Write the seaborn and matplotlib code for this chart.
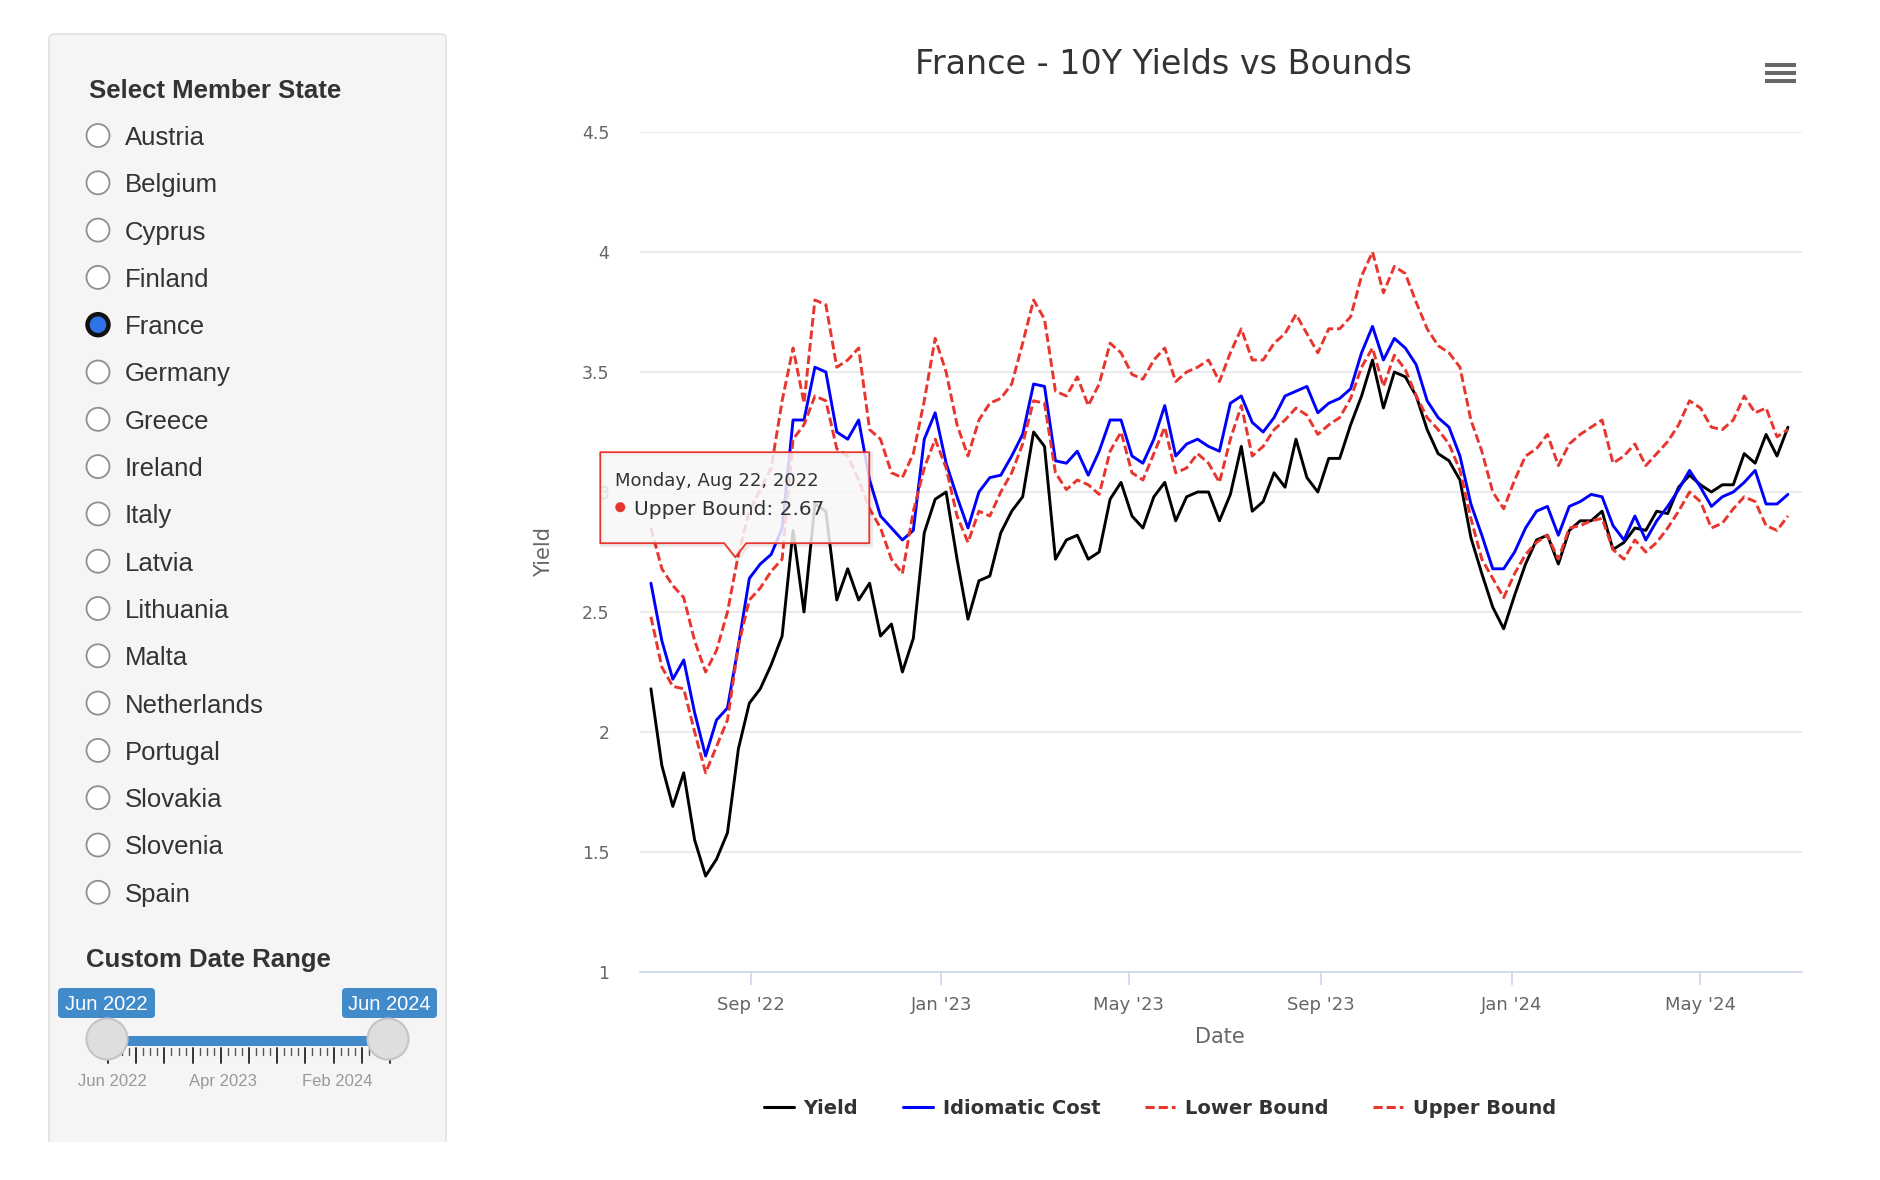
import pandas as pd
import numpy as np
import matplotlib
matplotlib.use("Agg")
import matplotlib.pyplot as plt
import matplotlib.dates as mdates
from matplotlib.patches import Circle, FancyBboxPatch, Rectangle, Polygon
from matplotlib.lines import Line2D
import seaborn as sns

# weekly readings of the France 10Y chart, first point 29 Jun 2022
start_date = "2022-06-29"

yield_vals = [
    2.18, 1.86, 1.69, 1.83, 1.55, 1.40, 1.47, 1.58, 1.93, 2.12, 2.18, 2.28, 2.40, 2.84, 2.50, 2.95, 2.92, 2.55,
    2.68, 2.55, 2.62, 2.40, 2.45, 2.25, 2.39, 2.83, 2.97, 3.00, 2.72, 2.47, 2.63, 2.65, 2.83, 2.92, 2.98, 3.25,
    3.19, 2.72, 2.80, 2.82, 2.72, 2.75, 2.97, 3.04, 2.90, 2.85, 2.98, 3.04, 2.88, 2.98, 3.00, 3.00, 2.88, 2.99,
    3.19, 2.92, 2.96, 3.08, 3.02, 3.22, 3.06, 3.00, 3.14, 3.14, 3.28, 3.40, 3.55, 3.35, 3.50, 3.48, 3.40,
    3.26, 3.16, 3.13, 3.05, 2.81, 2.66, 2.52, 2.43, 2.57, 2.70, 2.80, 2.82, 2.70, 2.84, 2.88, 2.88, 2.92, 2.76,
    2.79, 2.85, 2.84, 2.92, 2.91, 3.02, 3.07, 3.03, 3.00, 3.03, 3.03, 3.16, 3.12, 3.24, 3.15, 3.27,
]
idiomatic_vals = [
    2.62, 2.38, 2.22, 2.30, 2.08, 1.90, 2.05, 2.10, 2.36, 2.64, 2.70, 2.74, 2.85, 3.30, 3.30, 3.52, 3.50, 3.25,
    3.22, 3.30, 3.05, 2.90, 2.85, 2.80, 2.84, 3.22, 3.33, 3.12, 2.98, 2.85, 3.00, 3.06, 3.07, 3.15, 3.24, 3.45,
    3.44, 3.13, 3.12, 3.17, 3.07, 3.17, 3.30, 3.30, 3.15, 3.12, 3.22, 3.36, 3.15, 3.20, 3.22, 3.19, 3.17, 3.37,
    3.40, 3.29, 3.25, 3.31, 3.40, 3.42, 3.44, 3.33, 3.37, 3.39, 3.43, 3.58, 3.69, 3.55, 3.64, 3.60, 3.53,
    3.38, 3.31, 3.27, 3.15, 2.95, 2.82, 2.68, 2.68, 2.75, 2.85, 2.92, 2.94, 2.82, 2.94, 2.96, 2.99, 2.98, 2.86,
    2.80, 2.90, 2.80, 2.88, 2.94, 3.01, 3.09, 3.02, 2.94, 2.98, 3.00, 3.04, 3.09, 2.95, 2.95, 2.99,
]
lower_vals = [
    2.48, 2.27, 2.19, 2.18, 2.00, 1.83, 1.94, 2.05, 2.36, 2.55, 2.60, 2.67, 2.72, 3.22, 3.28, 3.40, 3.38, 3.18,
    3.15, 3.05, 2.93, 2.85, 2.72, 2.66, 2.92, 3.10, 3.22, 3.10, 2.90, 2.79, 2.92, 2.90, 3.00, 3.08, 3.20, 3.38,
    3.37, 3.08, 3.01, 3.05, 3.03, 2.99, 3.17, 3.25, 3.08, 3.05, 3.16, 3.27, 3.08, 3.10, 3.16, 3.12, 3.04, 3.22,
    3.36, 3.15, 3.19, 3.26, 3.30, 3.35, 3.32, 3.24, 3.28, 3.31, 3.39, 3.52, 3.60, 3.44, 3.57, 3.51, 3.40,
    3.31, 3.26, 3.20, 3.09, 2.89, 2.72, 2.64, 2.56, 2.66, 2.74, 2.79, 2.82, 2.72, 2.85, 2.86, 2.88, 2.89, 2.76,
    2.72, 2.80, 2.75, 2.79, 2.85, 2.92, 3.00, 2.96, 2.85, 2.87, 2.93, 2.98, 2.96, 2.86, 2.84, 2.90,
]
upper_vals = [
    2.85, 2.68, 2.61, 2.56, 2.38, 2.25, 2.34, 2.50, 2.74, 2.92, 3.01, 3.10, 3.38, 3.60, 3.37, 3.80, 3.78, 3.52,
    3.55, 3.60, 3.26, 3.22, 3.08, 3.06, 3.16, 3.38, 3.64, 3.50, 3.28, 3.15, 3.30, 3.37, 3.39, 3.45, 3.62, 3.80,
    3.72, 3.42, 3.40, 3.48, 3.36, 3.45, 3.62, 3.58, 3.49, 3.47, 3.55, 3.60, 3.46, 3.50, 3.52, 3.55, 3.46, 3.58,
    3.68, 3.55, 3.55, 3.62, 3.66, 3.74, 3.66, 3.58, 3.68, 3.68, 3.73, 3.90, 4.00, 3.83, 3.94, 3.91, 3.79,
    3.68, 3.61, 3.58, 3.52, 3.30, 3.17, 3.00, 2.93, 3.05, 3.15, 3.18, 3.24, 3.11, 3.20, 3.24, 3.27, 3.30, 3.12,
    3.15, 3.20, 3.11, 3.16, 3.21, 3.28, 3.38, 3.35, 3.27, 3.26, 3.30, 3.40, 3.33, 3.35, 3.23, 3.26,
]

member_states = ["Austria", "Belgium", "Cyprus", "Finland", "France", "Germany", "Greece", "Ireland",
                 "Italy", "Latvia", "Lithuania", "Malta", "Netherlands", "Portugal", "Slovakia",
                 "Slovenia", "Spain"]
selected_state = "France"

x_ticks = ["2022-09-01", "2023-01-01", "2023-05-01", "2023-09-01", "2024-01-01", "2024-05-01"]
y_ticks = [1, 1.5, 2, 2.5, 3, 3.5, 4, 4.5]

range_labels = ["Jun 2022", "Jun 2024"]
slider_grid_labels = ["Jun 2022", "Apr 2023", "Feb 2024"]

tip_date = pd.Timestamp("2022-08-22")
tip_series = "Upper Bound"
tip_value = 2.67

series_order = ["Yield", "Idiomatic Cost", "Lower Bound", "Upper Bound"]
red = "#e8362f"
palette = {"Yield": "#000000", "Idiomatic Cost": "#0000ff", "Lower Bound": red, "Upper Bound": red}
dash_map = {"Yield": "", "Idiomatic Cost": "", "Lower Bound": (3, 1.3), "Upper Bound": (3, 1.3)}

dates = pd.date_range(start_date, periods=len(yield_vals), freq="7D")
df = pd.DataFrame({"Date": dates, "Yield": yield_vals, "Idiomatic Cost": idiomatic_vals,
                   "Lower Bound": lower_vals, "Upper Bound": upper_vals})
long_df = df.melt(id_vars="Date", var_name="series", value_name="value")

sns.set_theme(style="white")
plt.rcParams["font.family"] = ["DejaVu Sans"]

W, H = 1880, 1180
fig = plt.figure(figsize=(W / 100, H / 100), dpi=100)


def px_box(l, t, r, b):
    return [l / W, 1 - b / H, (r - l) / W, (b - t) / H]


# ---- sidebar (pixel coordinates) ----
ui = fig.add_axes([0, 0, 1, 1], zorder=0)
ui.set_xlim(0, W)
ui.set_ylim(H, 0)
ui.set_axis_off()

ui.add_patch(FancyBboxPatch((49, 34), 397, 1160, boxstyle="round,pad=0,rounding_size=5",
                            fc="#f5f5f5", ec="#e3e3e3", lw=1.3))
ui.add_patch(Rectangle((0, 1142), 520, 60, fc="white", ec="none", zorder=3))

side_font = "Liberation Sans"
ui.text(89, 88, "Select Member State", fontsize=18.5, fontweight="bold", color="#333333",
        va="center_baseline", family=side_font)
row0, row_step = 135.5, 47.3
for i, name in enumerate(member_states):
    y = row0 + i * row_step
    if name == selected_state:
        ui.add_patch(Circle((98, y), 10.5, fc="#2f74e6", ec="#111111", lw=3.2))
    else:
        ui.add_patch(Circle((98, y), 11.5, fc="white", ec="#8f8f8f", lw=1.3))
    ui.text(125, y, name, fontsize=18.5, color="#333333", va="center_baseline", family=side_font)

ui.text(86, 958, "Custom Date Range", fontsize=18.5, fontweight="bold", color="#333333",
        va="center_baseline", family=side_font)

# range slider
track_l, track_r, track_y = 107, 388, 1041
ui.add_patch(Rectangle((track_l, track_y - 5), track_r - track_l, 10, fc="#428bca", ec="none"))
big = np.linspace(108, 390, 11)
for x in big:
    ui.plot([x, x], [1048, 1063], color="#333333", lw=1.4)
for a, b in zip(big[:-1], big[1:]):
    for x in np.linspace(a, b, 5)[1:-1]:
        ui.plot([x, x], [1048, 1055], color="#555555", lw=1.0)
for x in (track_l, track_r):
    ui.add_patch(Circle((x, track_y - 2), 20.5, fc="#dedede", ec="#c4c4c4", lw=1.5, zorder=4))
for lab, (l, r) in zip(range_labels, [(58, 155), (342, 437)]):
    ui.add_patch(FancyBboxPatch((l, 988), r - l, 30, boxstyle="round,pad=0,rounding_size=4",
                                fc="#428bca", ec="none"))
    ui.text((l + r) / 2, 1003, lab, fontsize=14.5, color="white", ha="center",
            va="center_baseline", family=side_font)
for lab, x in zip(slider_grid_labels, [112, 223, 337]):
    ui.text(x, 1080, lab, fontsize=12, color="#999999", ha="center", va="center_baseline",
            family=side_font)

# ---- main chart ----
ax = fig.add_axes(px_box(640, 132, 1802, 972), zorder=1)
sns.lineplot(data=long_df, x="Date", y="value", hue="series", style="series",
             hue_order=series_order, style_order=series_order, palette=palette,
             dashes=dash_map, linewidth=2.1, legend=False, ax=ax)

ax.set_xlim(pd.Timestamp("2022-06-22"), pd.Timestamp("2024-07-05"))
ax.set_ylim(1, 4.5)
ax.set_yticks(y_ticks)
ax.set_yticklabels([f"{t:g}" for t in y_ticks])
ax.set_xticks(pd.to_datetime(x_ticks))
ax.xaxis.set_major_formatter(mdates.DateFormatter("%b '%y"))
ax.grid(axis="y", color="#e6e6e6", lw=1.2)
ax.grid(axis="x", visible=False)
for s in ["left", "right", "top"]:
    ax.spines[s].set_visible(False)
ax.spines["bottom"].set_color("#ccd6eb")
ax.spines["bottom"].set_linewidth(1.2)
ax.tick_params(axis="y", length=0, pad=22, labelsize=12.5, labelcolor="#666666")
ax.tick_params(axis="x", bottom=True, length=9, width=1.2, color="#ccd6eb", pad=8,
               labelsize=13, labelcolor="#666666")

ax.set_xlabel("Date", fontsize=15, color="#666666")
ax.xaxis.set_label_coords(0.499, -0.0774)
ax.xaxis.label.set_verticalalignment("center")
ax.set_ylabel("Yield", fontsize=15, color="#666666")
ax.yaxis.set_label_coords(-0.0826, 0.5)
ax.yaxis.label.set_verticalalignment("center")
ax.yaxis.label.set_horizontalalignment("center")

fig.text(1163 / W, 1 - 64 / H, f"{selected_state} - 10Y Yields vs Bounds", fontsize=24,
         color="#333333", ha="center", va="center")

handles = []
for s in series_order:
    h = Line2D([], [], color=palette[s], lw=2.2)
    if dash_map[s]:
        h.set_dashes(dash_map[s])
    handles.append(h)
fig.legend(handles, series_order, loc="center", bbox_to_anchor=(1160 / W, 1 - 1108 / H),
           ncol=4, frameon=False, prop={"weight": "bold", "size": 14}, labelcolor="#333333",
           handlelength=1.55, handletextpad=0.5, columnspacing=2.3)

# ---- overlay: tooltip and menu icon ----
top = fig.add_axes([0, 0, 1, 1], zorder=3)
top.set_xlim(0, W)
top.set_ylim(H, 0)
top.set_axis_off()

for y in (65, 73, 81):
    top.plot([1765, 1796], [y, y], color="#666666", lw=2.9, solid_capstyle="butt")

# tooltip pointer sits a little above the hovered point
tip_disp = ax.transData.transform((mdates.date2num(tip_date), tip_value))
tx, ty = top.transData.inverted().transform(tip_disp)
ty -= 14
left, right, box_top, box_bot = tx - 135, tx + 134, ty - 105, ty - 14
outline = [(left, box_top), (right, box_top), (right, box_bot), (tx + 11, box_bot), (tx, ty),
           (tx - 11, box_bot), (left, box_bot)]
top.add_patch(Polygon([(x + 2, y + 2) for x, y in outline], closed=True, fc="none",
                      ec=(0, 0, 0, 0.08), lw=3))
top.add_patch(Polygon(outline, closed=True, fc=(0.97, 0.97, 0.97, 0.85), ec=red, lw=1.3,
                      joinstyle="round"))
top.text(left + 15, ty - 78, tip_date.strftime("%A, %b %d, %Y"), fontsize=13, color="#333333",
         va="center_baseline")
top.add_patch(Circle((left + 20, ty - 50), 5, fc=red, ec="none"))
top.text(left + 34, ty - 50, f"{tip_series}: {tip_value:.2f}", fontsize=14.5, color="#333333",
         va="center_baseline")

fig.savefig("out.png", dpi=100)
